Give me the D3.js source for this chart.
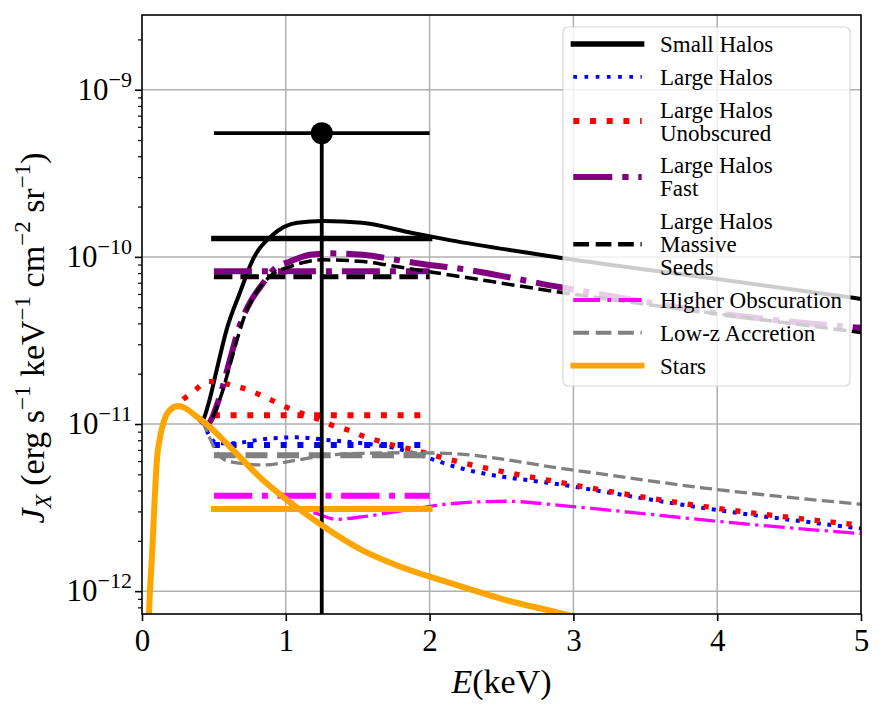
<!DOCTYPE html>
<html>
<head>
<meta charset="utf-8">
<script src="https://d3js.org/d3.v7.min.js"></script>
<style>
  body { margin: 0; background: #fff; }
</style>
</head>
<body>
<script>
// ---- data (E in keV, J_X in erg s^-1 keV^-1 cm^-2 sr^-1)
const starsE = [0.045, 0.05, 0.06, 0.067, 0.078, 0.09, 0.102, 0.125, 0.148, 0.194, 0.252, 0.3, 0.38, 0.47, 0.61, 0.84, 1.07, 1.25, 1.53, 1.77, 2.14, 2.5, 2.93, 3.2];
const starsJ = [5.6e-13, 7.9e-13, 1.17e-12, 1.47e-12, 2.32e-12, 3.8e-12, 5.83e-12, 8.3e-12, 1.01e-11, 1.21e-11, 1.28e-11, 1.245e-11, 1.107e-11, 9.64e-12, 7.33e-12, 4.62e-12, 3.2e-12, 2.48e-12, 1.76e-12, 1.43e-12, 1.12e-12, 9.0e-13, 7.3e-13, 6.3e-13];

const smallE = [0.38, 0.42, 0.46, 0.519, 0.588, 0.68, 0.77, 0.91, 1.08, 1.26, 1.53, 1.88, 2.14, 2.92, 4.0, 5.0];
const smallJ = [1.107e-11, 1.06e-11, 1.3e-11, 2.1e-11, 3.66e-11, 6.08e-11, 9.6e-11, 1.355e-10, 1.6e-10, 1.64e-10, 1.6e-10, 1.39e-10, 1.26e-10, 9.86e-11, 7.38e-11, 5.6e-11];

const largeE = [0.42, 0.47, 0.52, 0.611, 0.889, 1.074, 1.306, 1.535, 1.769, 2.0, 2.14, 2.99, 3.91, 5.0];
const largeJ = [1.05e-11, 8.5e-12, 7.67e-12, 7.66e-12, 8.2e-12, 8.32e-12, 8.0e-12, 7.66e-12, 7.14e-12, 6.24e-12, 5.68e-12, 4.24e-12, 3.14e-12, 2.37e-12];

const unobsE = [0.2, 0.264, 0.356, 0.46, 0.55, 0.68, 0.785, 0.9, 1.005, 1.11, 1.225, 1.318, 1.433, 1.537, 1.665, 1.769, 1.873, 2.0, 2.104, 2.99, 3.91, 5.0];
const unobsJ = [1.22e-11, 1.36e-11, 1.56e-11, 1.8e-11, 1.76e-11, 1.66e-11, 1.54e-11, 1.39e-11, 1.26e-11, 1.16e-11, 1.07e-11, 9.86e-12, 9.2e-12, 8.47e-12, 7.83e-12, 7.38e-12, 7.06e-12, 6.6e-12, 6.24e-12, 4.34e-12, 3.21e-12, 2.48e-12];

const fastE = [0.4, 0.45, 0.54, 0.61, 0.68, 0.76, 0.843, 0.913, 1.03, 1.167, 1.306, 1.537, 1.769, 2.0, 2.14, 2.92, 4.14, 5.0];
const fastJ = [1.08e-11, 1.0e-11, 1.45e-11, 2.4e-11, 3.9e-11, 5.5e-11, 6.97e-11, 8.36e-11, 9.38e-11, 1.03e-10, 1.05e-10, 1.03e-10, 9.6e-11, 8.95e-11, 8.67e-11, 6.56e-11, 4.44e-11, 3.76e-11];

const seedsE = [0.4, 0.45, 0.55, 0.62, 0.704, 0.889, 1.03, 1.259, 1.537, 1.769, 2.14, 2.92, 4.0, 5.0];
const seedsJ = [1.08e-11, 1.0e-11, 1.48e-11, 2.4e-11, 4.2e-11, 7.64e-11, 8.75e-11, 9.6e-11, 9.38e-11, 8.75e-11, 7.8e-11, 6.12e-11, 4.57e-11, 3.53e-11];

const obscE = [0.45, 0.61, 0.84, 0.95, 1.05, 1.213, 1.352, 1.537, 1.769, 2.14, 2.53, 2.94, 3.45, 4.14, 5.0];
const obscJ = [9.8e-12, 7.33e-12, 4.62e-12, 3.8e-12, 3.24e-12, 2.92e-12, 2.69e-12, 2.79e-12, 2.99e-12, 3.33e-12, 3.45e-12, 3.24e-12, 2.93e-12, 2.55e-12, 2.21e-12];

const lowzE = [0.42, 0.47, 0.52, 0.61, 0.843, 1.074, 1.306, 1.537, 1.769, 2.07, 2.99, 3.91, 5.0];
const lowzJ = [1.05e-11, 8.3e-12, 6.76e-12, 5.96e-12, 5.69e-12, 6.08e-12, 6.52e-12, 6.68e-12, 6.73e-12, 6.7e-12, 5.31e-12, 4.14e-12, 3.31e-12];

// band averages over 0.5-2 keV, same order as the legend
const bandE = [0.5, 2.0];
const bandJ = [1.29e-10, 7.5e-12, 1.13e-11, 8.2e-11, 7.6e-11, 3.72e-12, 6.5e-12, 3.1e-12];

// measured point with 0.5-2 keV band, lower limit off the axis
const pointE = 1.25, pointJ = 5.5e-10, pointJLow = 1e-13;

const legendLabels = ["Small Halos", "Large Halos", "Large Halos\nUnobscured", "Large Halos\nFast",
                      "Large Halos\nMassive\nSeeds", "Higher Obscuration", "Low-z Accretion", "Stars"];

const xTicks = [0, 1, 2, 3, 4, 5];
const yMajor = [-12, -11, -10, -9];

// ---- layout
const W = 885, H = 710;
const L = 142, R = 861, T = 15, B = 614;
const FONT = '"Liberation Serif", "Times New Roman", Times, serif';

const x = d3.scaleLinear().domain([0, 5]).range([L, R]);
const y = d3.scaleLog().domain([7.3e-13, 2.8e-9]).range([B, T]);

const svg = d3.select("body").append("svg").attr("width", W).attr("height", H)
  .style("font-family", FONT);

svg.append("defs").append("clipPath").attr("id", "plotclip")
  .append("rect").attr("x", L).attr("y", T).attr("width", R - L).attr("height", B - T);

// grid
const grid = svg.append("g").attr("stroke", "#b0b0b0").attr("stroke-width", 1.5);
grid.selectAll("line.gx").data(xTicks.slice(1, -1)).join("line")
  .attr("x1", d => x(d)).attr("x2", d => x(d)).attr("y1", T).attr("y2", B);
grid.selectAll("line.gy").data(yMajor).join("line")
  .attr("x1", L).attr("x2", R).attr("y1", d => y(Math.pow(10, d))).attr("y2", d => y(Math.pow(10, d)));

// series styles (curve / band bar / legend handle)
const series = [
  {E: smallE, J: smallJ, color: "#000000", cw: 4,   cd: null,                 bw: 5.5, bd: null,               lw: 5.3, ld: null},
  {E: largeE, J: largeJ, color: "#0000ff", cw: 4,   cd: "4,6.6",              bw: 6,   bd: "6,10.7",           lw: 3.8, ld: "3.7,7.5"},
  {E: unobsE, J: unobsJ, color: "#ff0000", cw: 5.3, cd: "5.3,10.7",           bw: 6,   bd: "6,10.7",           lw: 6,   ld: "6,10.7"},
  {E: fastE,  J: fastJ,  color: "#800080", cw: 6,   cd: "38,10,6,10",         bw: 6,   bd: "38,10,6,10",       lw: 6,   ld: "39,10,6.3,9.7"},
  {E: seedsE, J: seedsJ, color: "#000000", cw: 3.5, cd: "13,5.6",             bw: 5,   bd: "18.5,8",           lw: 4.5, ld: "15.7,6.7"},
  {E: obscE,  J: obscJ,  color: "#ff00ff", cw: 3.3, cd: "21,5.3,3.3,5.3",     bw: 6,   bd: "38.4,9.6,6,9.6",   lw: 4,   ld: "26.7,7.3,4,7.3"},
  {E: lowzE,  J: lowzJ,  color: "#808080", cw: 3.3, cd: "12.2,5.3",           bw: 6,   bd: "22,9.6",           lw: 4,   ld: "15.7,6.7"},
  {E: starsE, J: starsJ, color: "#ffa500", cw: 6,   cd: null,                 bw: 6,   bd: null,               lw: 5.7, ld: null}
];

const line = d3.line().x(d => x(d[0])).y(d => y(d[1])).curve(d3.curveMonotoneX);
const plot = svg.append("g").attr("clip-path", "url(#plotclip)");

function drawSeries(s) {
  plot.append("path")
    .datum(d3.zip(s.E, s.J))
    .attr("d", line)
    .attr("fill", "none")
    .attr("stroke", s.color)
    .attr("stroke-width", s.cw)
    .attr("stroke-dasharray", s.cd)
    .attr("stroke-linecap", s.cd ? "butt" : "square")
    .attr("stroke-linejoin", "round");
}
function drawBar(s, i) {
  plot.append("line")
    .attr("x1", x(bandE[0])).attr("x2", x(bandE[1]))
    .attr("y1", y(bandJ[i])).attr("y2", y(bandJ[i]))
    .attr("stroke", s.color)
    .attr("stroke-width", s.bw)
    .attr("stroke-dasharray", s.bd)
    .attr("stroke-linecap", s.bd ? "butt" : "square");
}

series.slice(0, 7).forEach((s, i) => { drawSeries(s); drawBar(s, i); });
drawBar(series[7], 7);

// error bar point
const eb = plot.append("g").attr("stroke", "#000").attr("stroke-width", 3.8);
eb.append("line").attr("x1", x(bandE[0])).attr("x2", x(bandE[1])).attr("y1", y(pointJ)).attr("y2", y(pointJ));
eb.append("line").attr("x1", x(pointE)).attr("x2", x(pointE)).attr("y1", y(pointJ)).attr("y2", y(pointJLow));
plot.append("circle").attr("cx", x(pointE)).attr("cy", y(pointJ)).attr("r", 11).attr("fill", "#000");

drawSeries(series[7]);

// ---- axes
const xAxis = svg.append("g").attr("transform", `translate(0,${B})`)
  .call(d3.axisBottom(x).tickValues(xTicks).tickFormat(d3.format("d")).tickSize(7).tickPadding(8));
xAxis.attr("font-family", null).attr("font-size", null);
xAxis.select(".domain").remove();
xAxis.selectAll(".tick line").attr("stroke-width", 1.6);
xAxis.selectAll(".tick text").style("font-size", "31px");

const minors = [];
for (let p = -13; p <= -9; p++) for (let m = 2; m <= 9; m++) {
  const v = m * Math.pow(10, p);
  if (v >= y.domain()[0] && v <= y.domain()[1]) minors.push(v);
}
const yMin = svg.append("g").attr("transform", `translate(${L},0)`)
  .call(d3.axisLeft(y).tickValues(minors).tickFormat("").tickSize(4));
yMin.select(".domain").remove();
yMin.selectAll(".tick line").attr("stroke-width", 1.2);

const yAx = svg.append("g").attr("transform", `translate(${L},0)`)
  .call(d3.axisLeft(y).tickValues(yMajor.map(p => Math.pow(10, p))).tickFormat("").tickSize(7));
yAx.select(".domain").remove();
yAx.selectAll(".tick line").attr("stroke-width", 1.6);

const ylab = svg.append("g").selectAll("text").data(yMajor).join("text")
  .attr("x", 132).attr("y", d => y(Math.pow(10, d)) + 10)
  .attr("text-anchor", "end").style("font-size", "31px");
ylab.append("tspan").text("10");
ylab.append("tspan").style("font-size", "22px").attr("dy", -13).text(d => "\u2212" + (-d));

// frame
svg.append("rect").attr("x", L).attr("y", T).attr("width", R - L).attr("height", B - T)
  .attr("fill", "none").attr("stroke", "#000").attr("stroke-width", 1.6);

// axis labels
const xl = svg.append("text").attr("x", (L + R) / 2).attr("y", 693)
  .attr("text-anchor", "middle").style("font-size", "34px");
xl.append("tspan").style("font-style", "italic").text("E");
xl.append("tspan").text("(keV)");

const yl = svg.append("text").attr("transform", "translate(44,338) rotate(-90)")
  .attr("text-anchor", "middle").style("font-size", "34px");
yl.append("tspan").style("font-style", "italic").text("J");
yl.append("tspan").style("font-style", "italic").style("font-size", "23px").attr("dy", 7).text("X");
yl.append("tspan").attr("dy", -7).text(" (erg s");
const sups = [["\u22121", " keV"], ["\u22121", " cm"], ["\u22122", " sr"], ["\u22121", ")"]];
sups.forEach(([s, t]) => {
  yl.append("tspan").style("font-size", "23px").attr("dy", -14).text(s);
  yl.append("tspan").attr("dy", 14).text(t);
});

// ---- legend
const leg = svg.append("g");
leg.append("rect").attr("x", 563).attr("y", 27).attr("width", 287).attr("height", 359)
  .attr("rx", 5).attr("fill", "#fff").attr("fill-opacity", 0.8)
  .attr("stroke", "#cccccc").attr("stroke-opacity", 0.8).attr("stroke-width", 1.2);

let ly = 44;
const lineH = 23, gap = 32.8;
legendLabels.forEach((lab, i) => {
  const rows = lab.split("\n");
  const s = series[i];
  const hy = ly + (rows.length - 1) * lineH / 2;
  leg.append("line").attr("x1", 573.3).attr("x2", 641.7).attr("y1", hy).attr("y2", hy)
    .attr("stroke", s.color).attr("stroke-width", s.lw)
    .attr("stroke-dasharray", s.ld)
    .attr("stroke-linecap", s.ld ? "butt" : "square");
  rows.forEach((r, k) => {
    leg.append("text").attr("x", 660).attr("y", ly + k * lineH).attr("dy", "0.35em")
      .style("font-size", "23px").text(r);
  });
  ly += (rows.length - 1) * lineH + gap;
});

svg.selectAll("text").style("font-family", FONT);
</script>
</body>
</html>
